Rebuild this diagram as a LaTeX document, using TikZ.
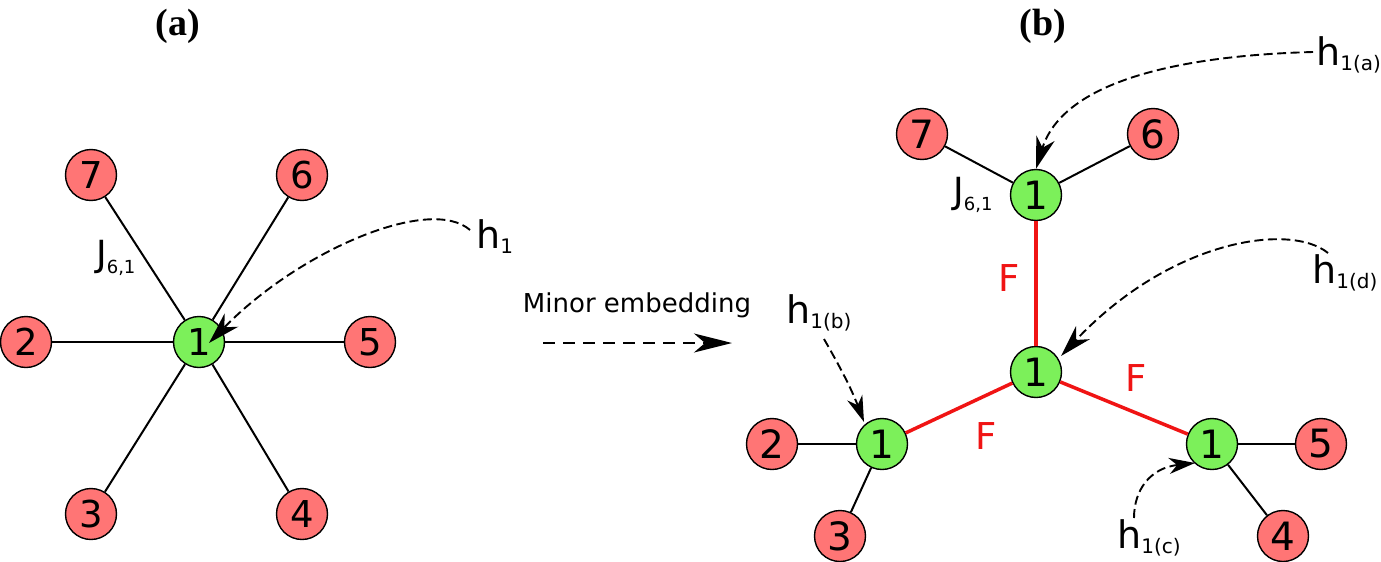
\documentclass[tikz,border=0pt]{standalone}
\usepackage{fontspec}
\setmainfont{DejaVu Sans}
\newfontfamily\labfont{Liberation Serif}
\usetikzlibrary{arrows.meta}
\definecolor{nodered}{RGB}{255,117,117}
\definecolor{nodegreen}{RGB}{124,240,90}
\definecolor{edgered}{RGB}{240,20,20}
\newcommand{\mysz}[1]{\fontsize{#1}{#1}\selectfont}
\newcommand{\hlab}[1]{\mysz{38}h\raisebox{-5pt}{\mysz{20}#1}}
\newcommand{\jlab}{\mysz{36}J\raisebox{-7pt}{\mysz{18}6,1}}
\begin{document}
\begin{tikzpicture}[x=1pt,y=-1pt,
  rnode/.style={circle,draw=black,line width=1.4pt,fill=nodered,minimum size=51pt,inner sep=0pt,font=\mysz{37}},
  gnode/.style={circle,draw=black,line width=1.4pt,fill=nodegreen,minimum size=51pt,inner sep=0pt,font=\mysz{37}},
  rnodeb/.style={rnode,font=\mysz{39}},
  gnodeb/.style={gnode,font=\mysz{39}},
  edge/.style={line width=2pt,black},
  fedge/.style={line width=3.5pt,edgered},
  harrow/.style={line width=1.9pt,dash pattern=on 9pt off 4.5pt,-{Stealth[length=32pt,width=19pt,inset=10pt]}},
  harrows/.style={line width=1.9pt,dash pattern=on 9pt off 4.5pt,-{Stealth[length=26pt,width=16pt,inset=8pt]}},
  txt/.style={inner sep=0pt,anchor=base west},
  flab/.style={inner sep=0pt,text=edgered,font=\mysz{37}}
]
\useasboundingbox (0,0) rectangle (1381,562);
\fill[white] (0,0) rectangle (1381,562);

% ---- (a) ----
\node[inner sep=0pt,anchor=base,font=\labfont\bfseries\mysz{38}] (la) at (178,35) {(a)};
\node[inner sep=0pt,anchor=base,font=\labfont\bfseries\mysz{38}] (lb) at (1043,35) {(b)};

\node[gnode] (a1) at (199,342) {1};
\node[rnode] (a7) at (91,175) {7};
\node[rnode] (a6) at (302,175) {6};
\node[rnode] (a2) at (26,342) {2};
\node[rnode] (a5) at (370,342) {5};
\node[rnode] (a3) at (91,514) {3};
\node[rnode] (a4) at (302,514) {4};
\draw[edge] (a1) -- (a7);
\draw[edge] (a1) -- (a6);
\draw[edge] (a1) -- (a2);
\draw[edge] (a1) -- (a5);
\draw[edge] (a1) -- (a3);
\draw[edge] (a1) -- (a4);
\node[txt] (ja) at (96,266) {\jlab};
\node[txt] (ha) at (476,248) {\hlab{1}};
\coordinate (hast) at (470,230);
\draw[harrow] (hast) .. controls (430,195) and (300,250) .. (209,343);

% ---- arrow ----
\node[inner sep=0pt,anchor=base,font=\mysz{26}] (me) at (637,312) {Minor embedding};
\coordinate (ms) at (543,343);
\coordinate (mt) at (732,343);
\draw[line width=2pt,dash pattern=on 12pt off 8pt,-{Stealth[length=38pt,width=19pt,inset=11pt]}] (ms) -- (mt);

% ---- (b) ----
\node[gnodeb] (t1) at (1036,195) {1};
\node[rnodeb] (b7) at (922,134) {7};
\node[rnodeb] (b6) at (1153,134) {6};
\node[gnodeb] (m1) at (1036,372) {1};
\node[gnodeb] (l1) at (882,444) {1};
\node[rnodeb] (b2) at (772,444) {2};
\node[rnodeb] (b3) at (840,536) {3};
\node[gnodeb] (r1) at (1212,444) {1};
\node[rnodeb] (b5) at (1321,444) {5};
\node[rnodeb] (b4) at (1283,536) {4};
\draw[edge] (t1) -- (b7);
\draw[edge] (t1) -- (b6);
\draw[edge] (l1) -- (b2);
\draw[edge] (l1) -- (b3);
\draw[edge] (r1) -- (b5);
\draw[edge] (r1) -- (b4);
\draw[fedge] (t1) -- (m1);
\draw[fedge] (m1) -- (l1);
\draw[fedge] (m1) -- (r1);
\node[flab] (f1) at (1009,278) {F};
\node[flab] (f2) at (1136,378) {F};
\node[flab] (f3) at (986,436) {F};
\node[txt] (jb) at (953,203) {\jlab};

\node[txt] (hba) at (1316,65) {\hlab{1(a)}};
\node[txt] (hbd) at (1312,283) {\hlab{1(d)}};
\node[txt] (hbb) at (786,323) {\hlab{1(b)}};
\node[txt] (hbc) at (1117,548) {\hlab{1(c)}};
\coordinate (sa) at (1313,52);
\coordinate (sd) at (1328,253);
\coordinate (sb) at (824,339);
\coordinate (sc) at (1134,518);
\draw[harrow] (sa) .. controls (1200,55) and (1065,75) .. (t1.north);
\draw[harrow] (sd) .. controls (1290,222) and (1170,240) .. (1061,356);
\draw[harrows] (sb) .. controls (836,360) and (850,385) .. (864,422);
\draw[harrows] (sc) .. controls (1134,490) and (1150,468) .. (1195,463);
\end{tikzpicture}
\end{document}
